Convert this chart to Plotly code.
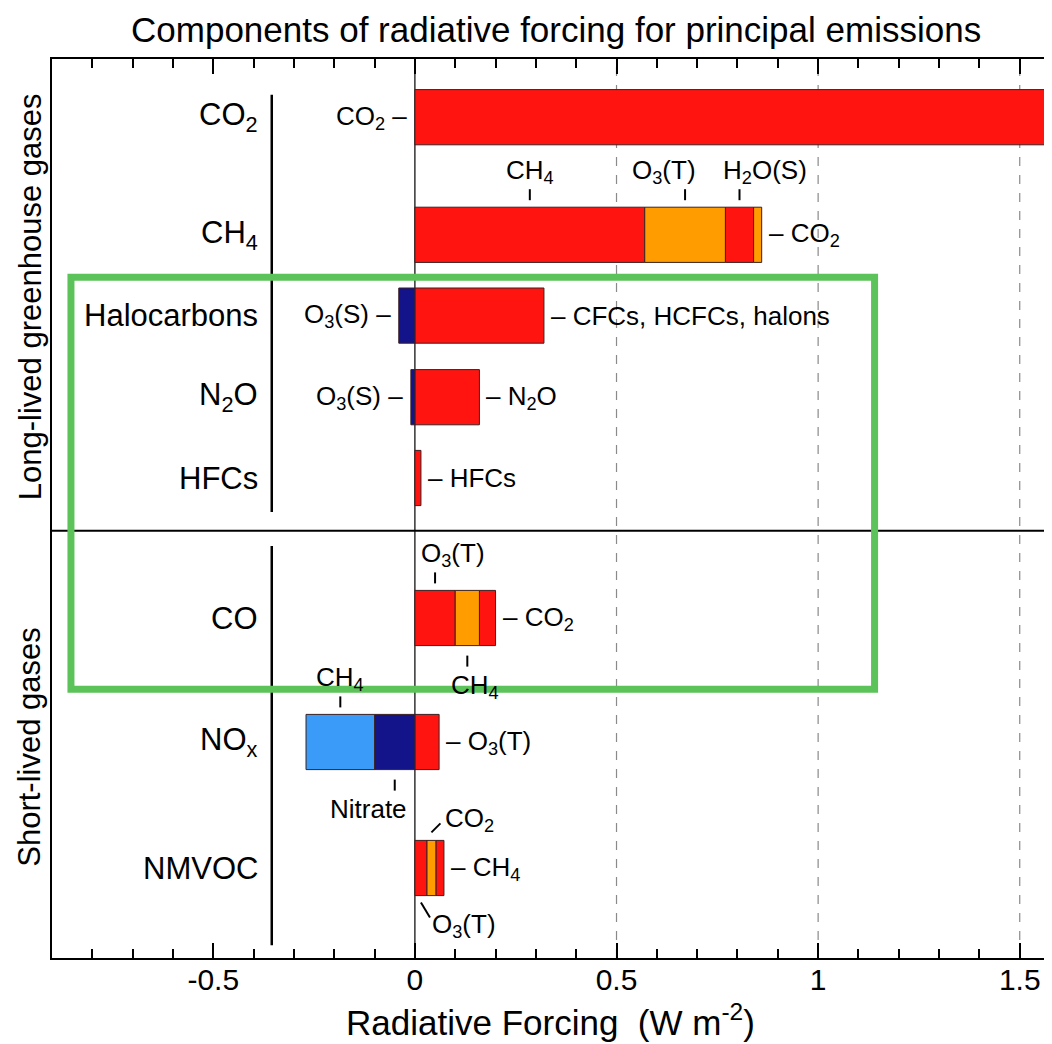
import plotly.graph_objects as go

# ---------------- data ----------------
ROWS = ["CO<sub>2</sub>", "CH<sub>4</sub>", "Halocarbons", "N<sub>2</sub>O", "HFCs",
        "CO", "NO<sub>x</sub>", "NMVOC"]

# positive components (left to right from 0)
POS_VALUES = [[1.68], [0.57, 0.20, 0.07, 0.02], [0.32], [0.16], [0.015],
              [0.10, 0.06, 0.04], [0.06], [0.03, 0.022, 0.02]]
POS_NAMES = [["CO<sub>2</sub>"],
             ["CH<sub>4</sub>", "O<sub>3</sub>(T)", "H<sub>2</sub>O(S)", "CO<sub>2</sub>"],
             ["CFCs, HCFCs, halons"], ["N<sub>2</sub>O"], ["HFCs"],
             ["O<sub>3</sub>(T)", "CH<sub>4</sub>", "CO<sub>2</sub>"],
             ["O<sub>3</sub>(T)"],
             ["O<sub>3</sub>(T)", "CO<sub>2</sub>", "CH<sub>4</sub>"]]
# negative components (right to left from 0)
NEG_VALUES = [[], [], [-0.04], [-0.01], [], [], [-0.10, -0.17], []]
NEG_NAMES = [[], [], ["O<sub>3</sub>(S)"], ["O<sub>3</sub>(S)"], [], [],
             ["Nitrate", "CH<sub>4</sub>"], []]

GROUPS = ["Long-lived greenhouse gases", "Short-lived gases"]
TICK_VALS = [-0.5, 0, 0.5, 1, 1.5]
TICK_TEXT = ["-0.5", "0", "0.5", "1", "1.5"]
X_TITLE = "Radiative Forcing  (W m<sup>-2</sup>)"
TITLE = "Components of radiative forcing for principal emissions"

# ---------------- styles / layout ----------------
RED, ORANGE, NAVY, LBLUE = "#ff1410", "#ff9c00", "#14148a", "#3a9cf8"
POS_COLORS = [[RED], [RED, ORANGE, RED, ORANGE], [RED], [RED], [RED],
              [RED, ORANGE, RED], [RED], [RED, ORANGE, RED]]
NEG_COLORS = [[], [], [NAVY], [NAVY], [], [], [NAVY, LBLUE], []]

ROW_Y = [10.51, 9.04, 8.03, 7.01, 6.0, 4.25, 2.70, 1.125]
Y_RANGE = [0, 11.2375]
X_RANGE = [-0.90, 1.58]
BAR_W = 0.69
SEP_Y = 5.34
BRACKET_X = -0.355
BRACKETS = [(5.575, 10.79), (0.16, 5.15)]
GROUP_Y_PAPER = [0.735, 0.235]

PLACE = {
    (0, "pos", 0): ("left", 0),
    (1, "pos", 0): ("above", 0), (1, "pos", 1): ("above", -21),
    (1, "pos", 2): ("above", 25), (1, "pos", 3): ("right", 0),
    (2, "pos", 0): ("right", 0), (2, "neg", 0): ("left", 0),
    (3, "pos", 0): ("right", 0), (3, "neg", 0): ("left", 0),
    (4, "pos", 0): ("right", 0),
    (5, "pos", 0): ("above", 18), (5, "pos", 1): ("below", 8), (5, "pos", 2): ("right", 0),
    (6, "pos", 0): ("right", 0), (6, "neg", 0): ("below", -26), (6, "neg", 1): ("above", 0),
    (7, "pos", 0): ("diag_below", 0), (7, "pos", 1): ("diag_above", 0), (7, "pos", 2): ("right", 0),
}

FONT = "Liberation Sans, Arial, sans-serif"
LBL = dict(family=FONT, size=26, color="black")
ROWF = dict(family=FONT, size=31, color="black")

fig = go.Figure()
shapes = []
annotations = []

# build segments
segs = []  # (row, sign, idx, base, value, color, name)
for r in range(len(ROWS)):
    b = 0.0
    for i, v in enumerate(POS_VALUES[r]):
        segs.append((r, "pos", i, b, v, POS_COLORS[r][i], POS_NAMES[r][i]))
        b += v
    b = 0.0
    for i, v in enumerate(NEG_VALUES[r]):
        segs.append((r, "neg", i, b, v, NEG_COLORS[r][i], NEG_NAMES[r][i]))
        b += v

for color in [RED, ORANGE, NAVY, LBLUE]:
    sel = [s for s in segs if s[5] == color]
    fig.add_trace(go.Bar(
        orientation="h",
        y=[ROW_Y[s[0]] for s in sel],
        x=[s[4] for s in sel],
        base=[s[3] for s in sel],
        width=BAR_W,
        marker=dict(color=color, line=dict(color="#3a2020", width=1)),
        hoverinfo="skip", showlegend=False, cliponaxis=True))

# labels for segments
for (r, sign, i, base, v, color, name) in segs:
    place, dx = PLACE[(r, sign, i)]
    y = ROW_Y[r]
    top = y + BAR_W / 2
    bot = y - BAR_W / 2
    mid = base + v / 2
    right_end = sum(POS_VALUES[r])
    left_end = sum(NEG_VALUES[r])
    if place == "right":
        annotations.append(dict(x=right_end, y=y, text="\u2013 " + name, xanchor="left",
                                yanchor="middle", xshift=5, showarrow=False, font=LBL))
    elif place == "left":
        annotations.append(dict(x=left_end, y=y, text=name + " \u2013", xanchor="right",
                                yanchor="middle", xshift=-6, showarrow=False, font=LBL))
    elif place == "above":
        shapes.append(dict(type="line", xref="x", yref="y", x0=mid, x1=mid,
                           ysizemode="pixel", yanchor=top, y0=7, y1=18,
                           line=dict(color="black", width=2)))
        annotations.append(dict(x=mid, y=top, text=name, xanchor="center", yanchor="bottom",
                                xshift=dx, yshift=17, showarrow=False, font=LBL))
    elif place == "below":
        shapes.append(dict(type="line", xref="x", yref="y", x0=mid, x1=mid,
                           ysizemode="pixel", yanchor=bot, y0=-10, y1=-21,
                           line=dict(color="black", width=2)))
        annotations.append(dict(x=mid, y=bot, text=name, xanchor="center", yanchor="top",
                                xshift=dx, yshift=-22, showarrow=False, font=LBL))
    elif place == "diag_above":
        shapes.append(dict(type="line", xref="x", yref="y", xsizemode="pixel", xanchor=mid,
                           x0=0, x1=9, ysizemode="pixel", yanchor=top, y0=8, y1=17,
                           line=dict(color="black", width=2)))
        annotations.append(dict(x=mid, y=top, text=name, xanchor="left", yanchor="middle",
                                xshift=12, yshift=21, showarrow=False, font=LBL))
    elif place == "diag_below":
        shapes.append(dict(type="line", xref="x", yref="y", xsizemode="pixel", xanchor=mid,
                           x0=0, x1=9, ysizemode="pixel", yanchor=bot, y0=-7, y1=-22,
                           line=dict(color="black", width=2)))
        annotations.append(dict(x=mid, y=bot, text=name, xanchor="left", yanchor="middle",
                                xshift=9, yshift=-30, showarrow=False, font=LBL))

# row labels
for r, name in enumerate(ROWS):
    annotations.append(dict(x=BRACKET_X, y=ROW_Y[r], text=name, xanchor="right",
                            yanchor="middle", xshift=-12, showarrow=False, font=ROWF))

# group labels
for g, gy in zip(GROUPS, GROUP_Y_PAPER):
    annotations.append(dict(xref="paper", yref="paper", x=-0.022, y=gy, text=g,
                            textangle=-90, xanchor="center", yanchor="middle",
                            showarrow=False, font=ROWF))

# x axis title
annotations.append(dict(xref="paper", yref="paper", x=0.498, y=-0.069, text=X_TITLE,
                        xanchor="center", yanchor="middle", showarrow=False,
                        font=dict(family=FONT, size=35, color="black")))

# grid lines, zero line, separator, brackets
for gx in [0.5, 1.0, 1.5]:
    shapes.append(dict(type="line", xref="x", yref="paper", x0=gx, x1=gx, y0=0, y1=1,
                       layer="below", line=dict(color="#8a8a8a", width=1.2, dash="dash")))
shapes.append(dict(type="line", xref="x", yref="paper", x0=0, x1=0, y0=0, y1=1,
                   layer="below", line=dict(color="black", width=1.2)))
shapes.append(dict(type="line", xref="paper", yref="y", x0=0, x1=1, y0=SEP_Y, y1=SEP_Y,
                   line=dict(color="black", width=2)))
for y0, y1 in BRACKETS:
    shapes.append(dict(type="line", xref="x", yref="y", x0=BRACKET_X, x1=BRACKET_X,
                       y0=y0, y1=y1, line=dict(color="black", width=2.5)))

# green highlight box
shapes.append(dict(type="rect", xref="x", yref="y",
                   x0=-0.853, x1=1.140, y0=3.36, y1=8.51,
                   line=dict(color="#5cc25a", width=7), layer="above"))

# page body has an 8px margin: figure is sized so the plot ends at the window edge
fig.update_layout(
    width=1044, height=1036,
    margin=dict(l=44, r=0, t=51, b=86, autoexpand=False),
    paper_bgcolor="white", plot_bgcolor="white",
    barmode="overlay",
    title=dict(text=TITLE, x=0.525, xanchor="center", y=0.979, yanchor="middle",
               font=dict(family=FONT, size=35, color="black")),
    xaxis=dict(range=X_RANGE, tickvals=TICK_VALS, ticktext=TICK_TEXT,
               ticks="inside", ticklen=15, tickwidth=1.6, tickcolor="black",
               minor=dict(dtick=0.1, tick0=0, ticks="inside", ticklen=9,
                          tickwidth=1.6, tickcolor="black", showgrid=False),
               showline=True, linecolor="black", linewidth=2, mirror="allticks",
               showgrid=False, zeroline=False, automargin=False,
               ticklabelstandoff=-6,
               tickfont=dict(family=FONT, size=30, color="black")),
    yaxis=dict(range=Y_RANGE, showline=True, linecolor="black", linewidth=2,
               showticklabels=False, ticks="", showgrid=False, zeroline=False,
               automargin=False),
    shapes=shapes, annotations=annotations,
)

fig.write_html("out.html")
